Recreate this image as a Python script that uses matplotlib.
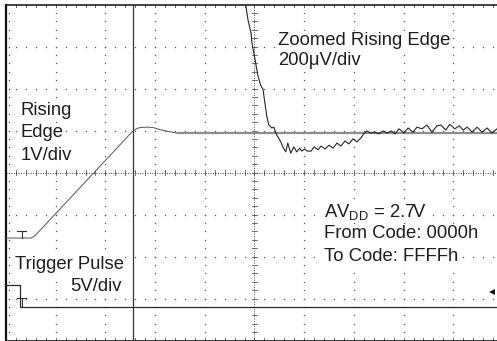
import matplotlib
matplotlib.use('Agg')
import matplotlib.pyplot as plt

plt.rcParams['font.family'] = ['Liberation Sans', 'DejaVu Sans']
plt.rcParams['mathtext.fontset'] = 'custom'
plt.rcParams['mathtext.rm'] = 'Liberation Sans'
plt.rcParams['mathtext.default'] = 'regular'

# ---- data (units: scope divisions) ----
n_xdiv = 9.88   # visible horizontal divisions (right edge is cut)
n_ydiv = 8

# Rising edge, 1V/div
rise_t = [0.00, 0.50, 0.58, 2.555, 2.64, 2.70, 2.84, 2.96, 3.10, 3.26, 3.44]
rise_v = [2.44, 2.44, 2.49, 4.99, 5.05, 5.07, 5.08, 5.07, 5.02, 4.98, 4.94]
flat_t = [3.44, 9.88]
flat_v = [4.94, 4.94]

# Zoomed rising edge, 200uV/div
zoom_t = [4.81, 4.83, 4.87, 4.93, 4.95, 5.01, 5.07, 5.13, 5.17, 5.21, 5.25, 5.29,
          5.35, 5.39, 5.43, 5.47, 5.53, 5.57, 5.63, 5.67, 5.73, 5.79, 5.85, 5.91,
          5.95, 6.01, 6.06, 6.14, 6.20, 6.28, 6.34, 6.42, 6.50, 6.58, 6.66, 6.74,
          6.82, 6.90, 6.98, 7.06, 7.14, 7.20, 7.26, 7.34, 7.42, 7.50, 7.59, 7.67,
          7.75, 7.83, 7.91, 8.01, 8.09, 8.19, 8.27, 8.37, 8.47, 8.57, 8.67, 8.75,
          8.85, 8.93, 9.03, 9.12, 9.20, 9.28, 9.38, 9.48, 9.58, 9.68, 9.78, 9.88]
zoom_v = [8.11, 7.94, 7.63, 7.32, 7.08, 6.70, 6.30, 6.06, 5.99, 5.65, 5.32, 5.13,
          5.06, 5.08, 4.94, 4.85, 4.73, 4.61, 4.49, 4.70, 4.46, 4.61, 4.49, 4.58,
          4.51, 4.56, 4.51, 4.51, 4.61, 4.54, 4.63, 4.56, 4.65, 4.58, 4.70, 4.63,
          4.75, 4.68, 4.80, 4.73, 4.82, 4.92, 4.99, 4.94, 4.96, 4.92, 4.99, 4.94,
          4.99, 4.92, 5.04, 4.94, 5.06, 4.96, 5.08, 5.04, 5.13, 4.96, 5.11, 5.13,
          5.01, 5.15, 5.04, 5.11, 5.01, 5.08, 4.96, 5.08, 4.96, 5.06, 4.94, 5.04]

# Trigger pulse, 5V/div
trig_t = [0.00, 0.28, 0.28, 9.88]
trig_v = [1.32, 1.32, 0.80, 0.80]

cursor_t = 2.555
ground_rise = (0.32, 2.44, 2.61)   # x, bottom, top of "T" marker
ground_trig = (0.32, 0.80, 1.01)
trig_level = (9.78, 1.155)

labels_left = ["Rising", "Edge", "1V/div"]
labels_left_y = [5.37, 4.85, 4.30]
zoom_labels = ["Zoomed Rising Edge", "200\u03bcV/div"]
zoom_labels_y = [7.04, 6.56]
cond_labels = ["AV$_{DD}$ = 2.7V", "From Code: 0000h", "To Code: FFFFh"]
cond_labels_y = [2.94, 2.44, 1.89]

# ---- figure ----
W, H = 497, 341
fig = plt.figure(figsize=(W / 100, H / 100), dpi=100)
ax = fig.add_axes([6 / W, 0.5 / H, 491 / W, 336 / H])
ax.set_xlim(0, n_xdiv)
ax.set_ylim(0, n_ydiv)
ax.set_xticks([])
ax.set_yticks([])
ax.spines['right'].set_visible(False)
ax.spines['left'].set_linewidth(1.6)
ax.spines['top'].set_linewidth(1.1)
ax.spines['bottom'].set_linewidth(1.2)
for s in ['left', 'top', 'bottom']:
    ax.spines[s].set_color('#111111')

gcol = '#555555'
minor_x = [0.2 * k for k in range(1, 50)]
minor_y = [0.2 * k for k in range(1, 40)]

# dotted graticule
for mx in [1, 2, 3, 4, 6, 7, 8, 9]:
    ax.plot([mx] * len(minor_y), minor_y, ls='none', marker='s', ms=0.9,
            mew=0, color=gcol, zorder=1)
for my in [1, 2, 3, 5, 6, 7]:
    ax.plot(minor_x, [my] * len(minor_x), ls='none', marker='s', ms=0.9,
            mew=0, color=gcol, zorder=1)

# centre cross with ticks
ax.plot([0, n_xdiv], [4, 4], ls=(0, (1, 1.5)), lw=0.7, color='#444444', zorder=1)
ax.plot([5, 5], [0, n_ydiv], ls=(0, (1, 1.5)), lw=0.7, color='#444444', zorder=1)
for mx in minor_x:
    ax.plot([mx, mx], [3.94, 4.06], lw=0.6, color='#555555', zorder=1)
for my in minor_y:
    ax.plot([4.94, 5.06], [my, my], lw=0.6, color='#555555', zorder=1)

# border ticks
for mx in minor_x:
    ax.plot([mx, mx], [7.95, 8.0], lw=0.6, color='#444444', zorder=1)
    ax.plot([mx, mx], [0.0, 0.06], lw=0.6, color='#444444', zorder=1)
ax.plot([0.06] * len(minor_y), minor_y, ls='none', marker='s', ms=0.9,
        mew=0, color='#444444', zorder=1)

# texts (white boxes hide the graticule beneath)
fs = 13.3
tcol = '#1e1e1e'
box = dict(facecolor='white', edgecolor='none', pad=0.5)
for t, y in zip(labels_left, labels_left_y):
    ax.text(0.30, y, t, fontsize=fs, color=tcol, va='baseline', ha='left',
            bbox=box, zorder=2)
for t, y in zip(zoom_labels, zoom_labels_y):
    ax.text(5.47, y, t, fontsize=fs, color=tcol, va='baseline', ha='left',
            bbox=box, zorder=2)
for t, y in zip(cond_labels, cond_labels_y):
    ax.text(6.40, y, t, fontsize=fs, color=tcol, va='baseline', ha='left',
            bbox=box, zorder=2)
ax.text(0.18, 1.70, "Trigger Pulse", fontsize=fs, color=tcol, va='baseline',
        ha='left', bbox=box, zorder=2)
ax.text(2.33, 1.18, "5V/div", fontsize=fs, color=tcol, va='baseline',
        ha='right', bbox=box, zorder=2)

# cursor line
ax.axvline(cursor_t, color='#333333', lw=0.9, zorder=3)

# traces
ax.plot(rise_t, rise_v, color='#5e5e5e', lw=0.75, zorder=3)
ax.plot(flat_t, flat_v, color='#8c8c8c', lw=1.6, solid_capstyle='butt', zorder=3)
ax.plot(zoom_t, zoom_v, color='#262626', lw=0.8, zorder=4)
ax.plot(trig_t, trig_v, color='#2a2a2a', lw=0.9, zorder=3)

# ground markers
for gx, gb, gt in [ground_rise, ground_trig]:
    ax.plot([gx, gx], [gb, gt], color='#333333', lw=0.8, zorder=3)
    ax.plot([gx - 0.09, gx + 0.09], [gt, gt], color='#333333', lw=0.8, zorder=3)

# trigger level marker
ax.plot([trig_level[0]], [trig_level[1]], marker='<', ms=4.5, color='#111111',
        mew=0, zorder=4)

fig.savefig('out.png', dpi=100)
